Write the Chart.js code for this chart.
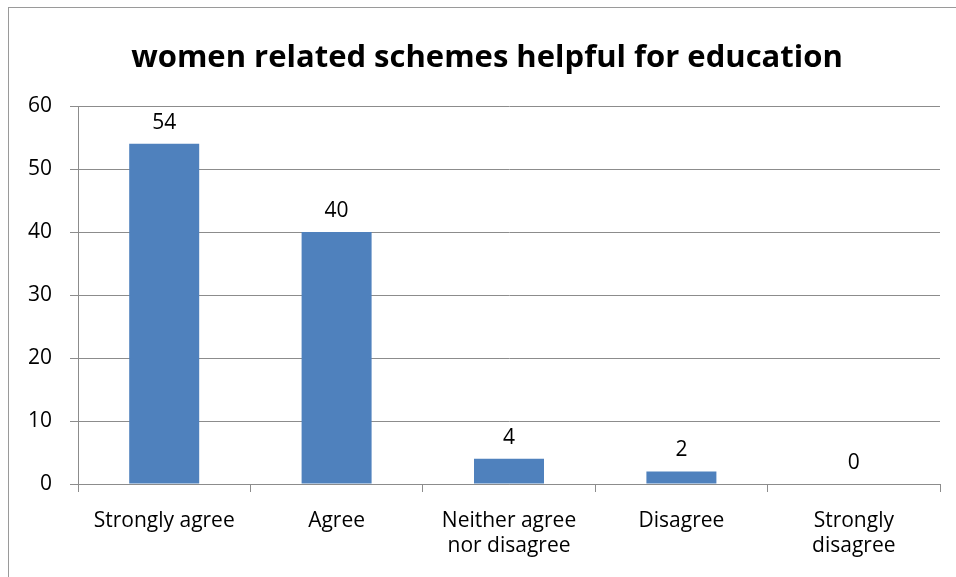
<!DOCTYPE html>
<html>
<head>
<meta charset="utf-8">
<script src="https://cdn.jsdelivr.net/npm/chart.js@4"></script>
<style>
	html, body { margin: 0; padding: 0; background: #fff; overflow: hidden; }
	#frame { position: absolute; left: 8px; top: 7px; width: 1000px; height: 600px; border: 1px solid #9a9a9a; box-sizing: border-box; }
	#wrap { position: absolute; left: 0; top: 0; width: 956px; height: 577px; }
	#title {
		position: absolute; left: 8px; top: 37px; width: 958px;
		text-align: center; font: bold 31px/36px "Open Sans", sans-serif; color: #000;
		white-space: nowrap;
	}
</style>
</head>
<body>
<div id="frame"></div>
<div id="wrap"><canvas id="chart"></canvas></div>
<div id="title">women related schemes helpful for education</div>
<script>
// responses per answer option
const categories = [
	'Strongly agree',
	'Agree',
	['Neither agree', 'nor disagree'],
	'Disagree',
	['Strongly', 'disagree'],
];
const responses = [54, 40, 4, 2, 0];
const yTicks = { min: 0, max: 60, step: 10 };

const FONT = '"Open Sans", sans-serif';
const axisGrey = '#8c8c8c';

// value printed above every bar
const barValues = {
	id: 'barValues',
	afterDatasetsDraw(chart) {
		const ctx = chart.ctx;
		ctx.save();
		ctx.font = `21px ${FONT}`;
		ctx.fillStyle = '#000';
		ctx.textAlign = 'center';
		ctx.textBaseline = 'alphabetic';
		chart.getDatasetMeta(0).data.forEach((bar, i) => {
			ctx.fillText(String(responses[i]), bar.x, bar.y - 15);
		});
		ctx.restore();
	},
};

new Chart(document.getElementById('chart'), {
	type: 'bar',
	data: {
		labels: categories,
		datasets: [{
			data: responses,
			backgroundColor: '#4f81bd',
			borderWidth: 0,
			barPercentage: 0.406,
			categoryPercentage: 1,
		}],
	},
	options: {
		responsive: true,
		maintainAspectRatio: false,
		animation: false,
		// the title sits in the html above, so leave its room at the top
		layout: { padding: { left: 0, right: 16, top: 106, bottom: 0 } },
		scales: {
			x: {
				grid: { display: true, drawOnChartArea: false, drawTicks: true, tickLength: 8, offset: true, color: axisGrey },
				border: { display: true, color: axisGrey, width: 1 },
				ticks: { color: '#000', font: { family: FONT, size: 21, lineHeight: 1.2 }, padding: 16, maxRotation: 0, autoSkip: false },
				afterFit: scale => { scale.height = 93; },
			},
			y: {
				min: yTicks.min,
				max: yTicks.max,
				grid: { color: axisGrey, tickLength: 8 },
				border: { display: true, color: axisGrey, width: 1 },
				ticks: { stepSize: yTicks.step, color: '#000', font: { family: FONT, size: 21 }, padding: 18 },
				afterFit: scale => { scale.width = 78; },
			},
		},
		plugins: {
			legend: { display: false },
			tooltip: { enabled: false },
			title: { display: false },
		},
	},
	plugins: [barValues],
});
</script>
</body>
</html>
